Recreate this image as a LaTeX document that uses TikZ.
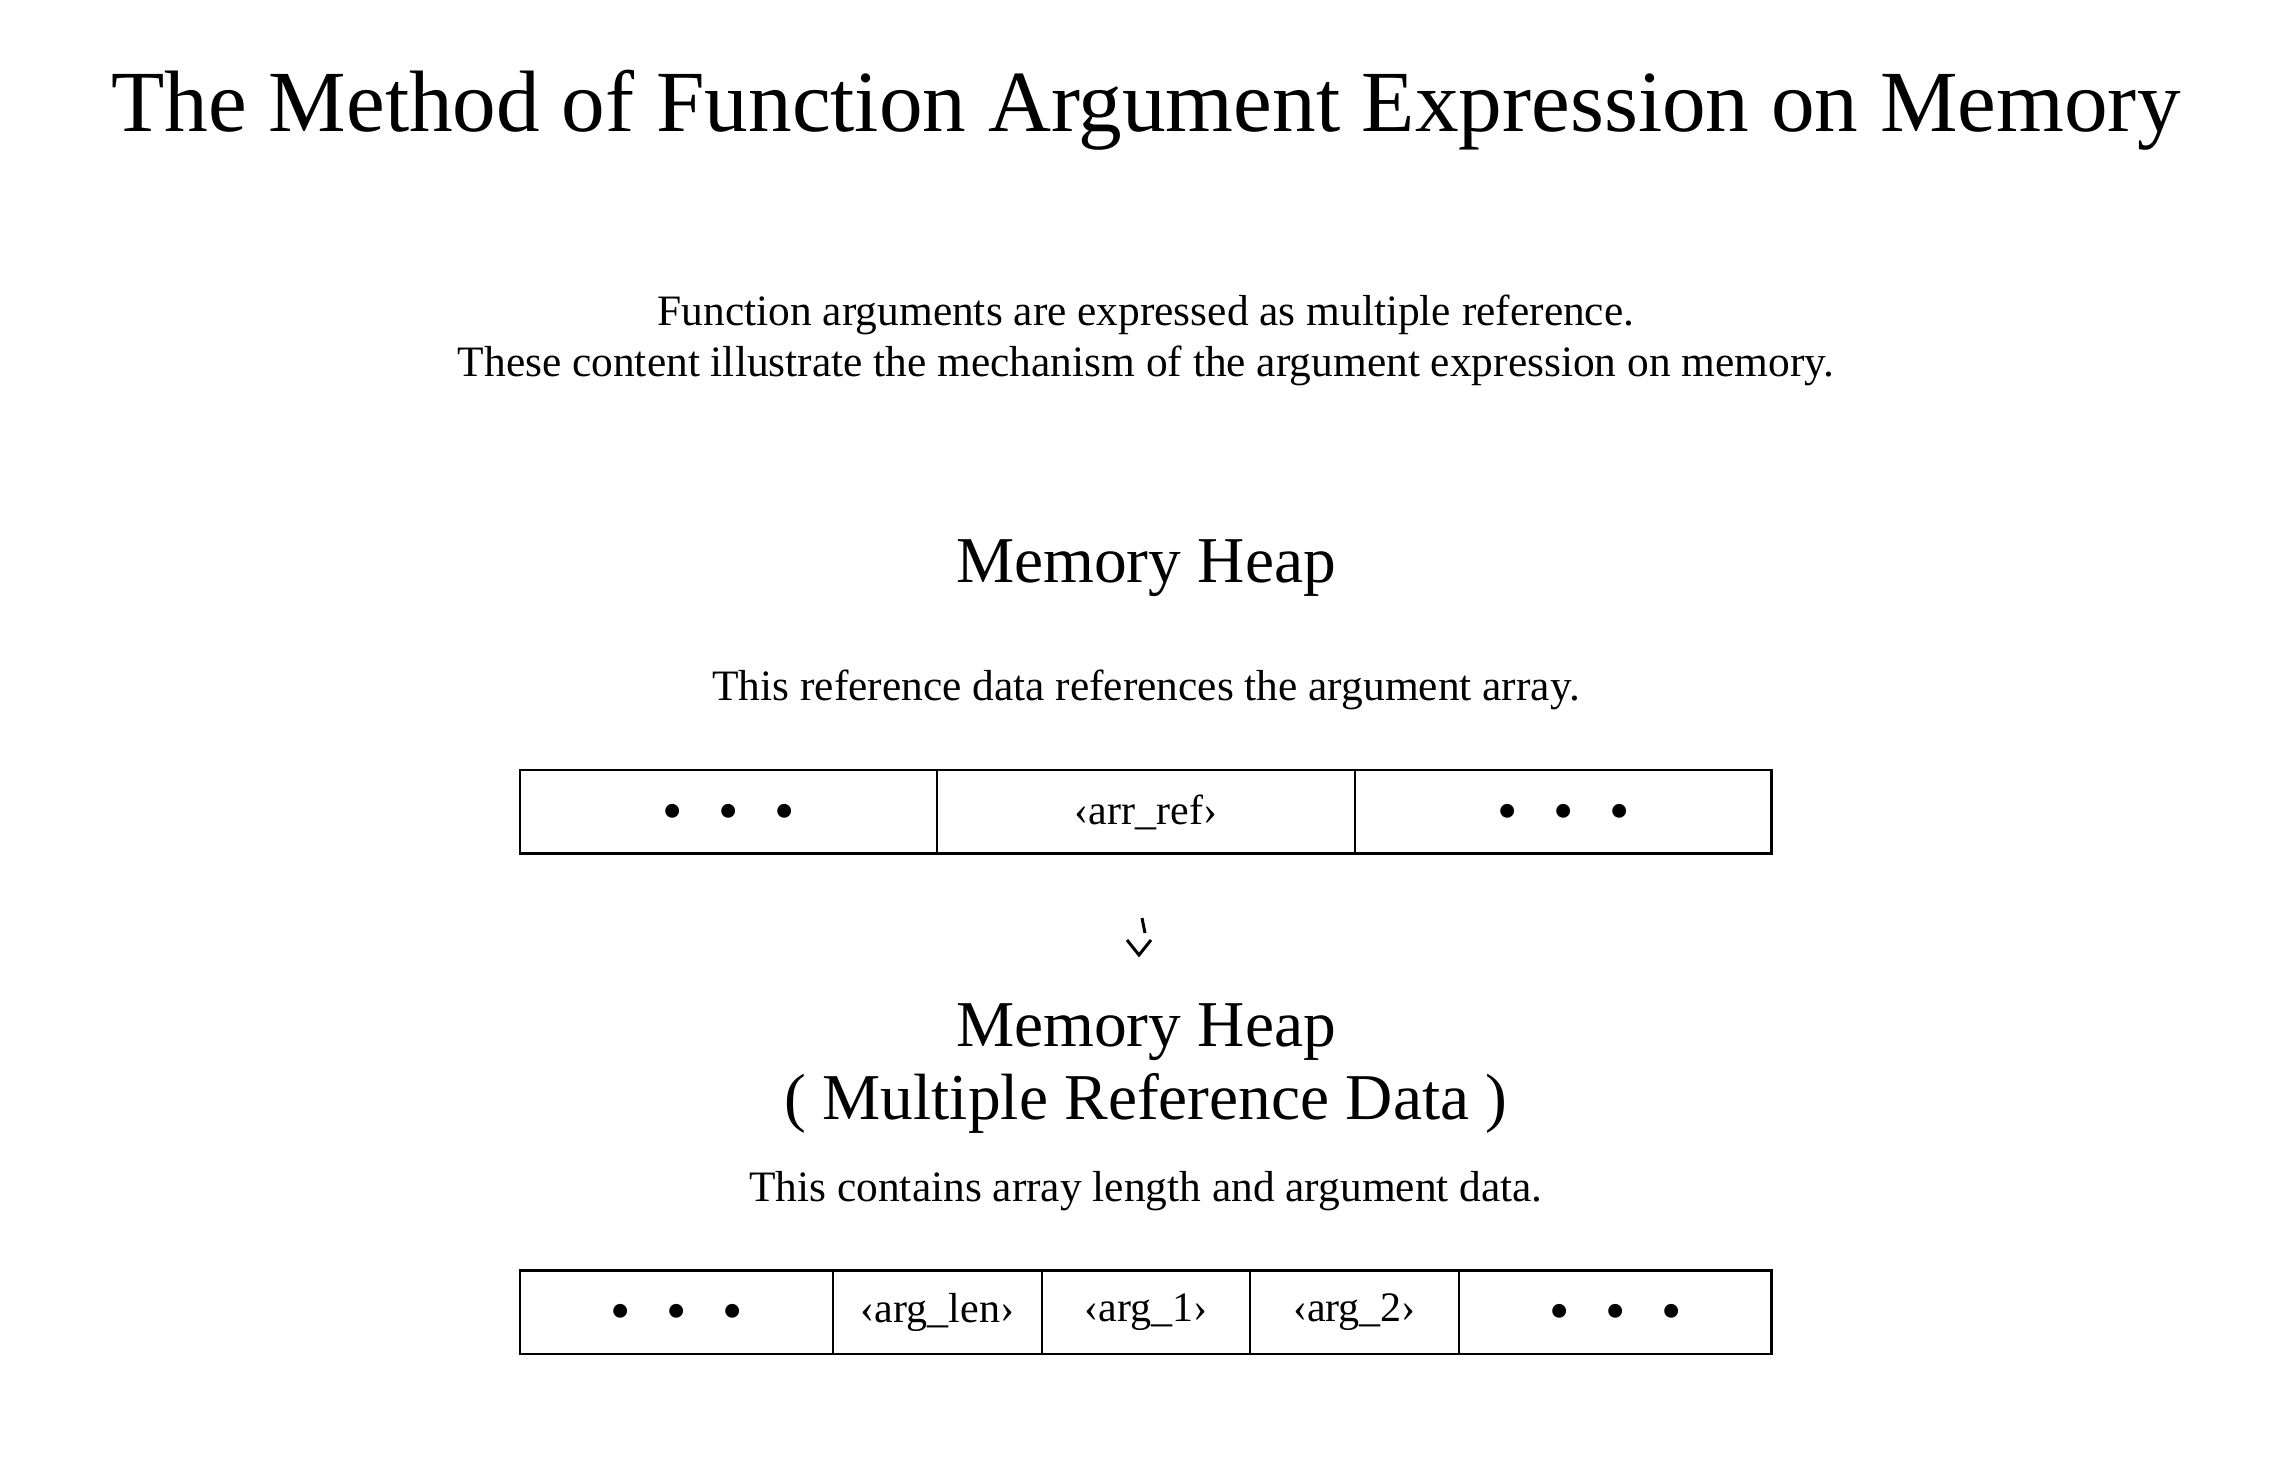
\documentclass[tikz,border=0pt]{standalone}
\usepackage{fontspec}
\setmainfont{Liberation Serif}
\begin{document}
\begin{tikzpicture}[x=0.5pt,y=-0.5pt,
  lw/.style={line width=1.3pt},
  titletext/.style={anchor=base, inner sep=0, font=\fontsize{43.6}{48}\selectfont},
  bodytext/.style={anchor=base, inner sep=0, font=\fontsize{21.7}{26}\selectfont},
  headtext/.style={anchor=base, inner sep=0, font=\fontsize{32.7}{38}\selectfont},
  cell/.style={draw, lw, minimum height=41.8pt, inner sep=0, anchor=center, font=\fontsize{21}{24}\selectfont},
  dots/.style={cell, font=\fontsize{29}{32}\selectfont}]
\useasboundingbox[fill=white] (0,0) rectangle (2292,1459);
\newcommand{\mydots}{\raisebox{-9.3pt}[0pt][0pt]{\makebox[28pt]{•}\makebox[28pt]{•}\makebox[28pt]{•}}}
% texts
\node[titletext] (title) at (1146,131.5) {The Method of Function Argument Expression on Memory};
\node[bodytext] (sub1) at (1146,326) {Function arguments are expressed as multiple reference.};
\node[bodytext] (sub2) at (1146,377) {These content illustrate the mechanism of the argument expression on memory.};
\node[headtext] (heap1) at (1146,583) {Memory Heap};
\node[bodytext] (desc1) at (1146,701) {This reference data references the argument array.};
\node[headtext] (heap2) at (1146,1046) {Memory Heap};
\node[headtext] (heap2b) at (1146,1119) {( Multiple Reference Data )};
\node[bodytext] (desc2) at (1146,1201) {This contains array length and argument data.};
% box 1
\node[dots, minimum width=208.5pt] (a1) at (728.5,812) {\mydots};
\node[cell, minimum width=209pt] (a2) at (1146,812) {‹arr\_ref›};
\node[dots, minimum width=208.25pt] (a3) at (1563.25,812) {\mydots};
% box 2
\node[dots, minimum width=156.5pt] (b1) at (676.5,1312) {\mydots};
\node[cell, minimum width=104.5pt] (b2) at (937.5,1312) {‹arg\_len›};
\node[cell, minimum width=104pt] (b3) at (1146,1312) {‹arg\_1›};
\node[cell, minimum width=104.5pt] (b4) at (1354.5,1312) {‹arg\_2›};
\node[dots, minimum width=156.25pt] (b5) at (1615.25,1312) {\mydots};
% arrow
\coordinate (t1) at (1142,918);
\coordinate (t2) at (1145,933);
\coordinate (c1) at (1127,940);
\coordinate (c2) at (1139,955);
\coordinate (c3) at (1151,940);
\draw[line width=1.5pt] (t1) -- (t2);
\draw[line width=1.5pt] (c1) -- (c2) -- (c3);
\end{tikzpicture}
\end{document}
